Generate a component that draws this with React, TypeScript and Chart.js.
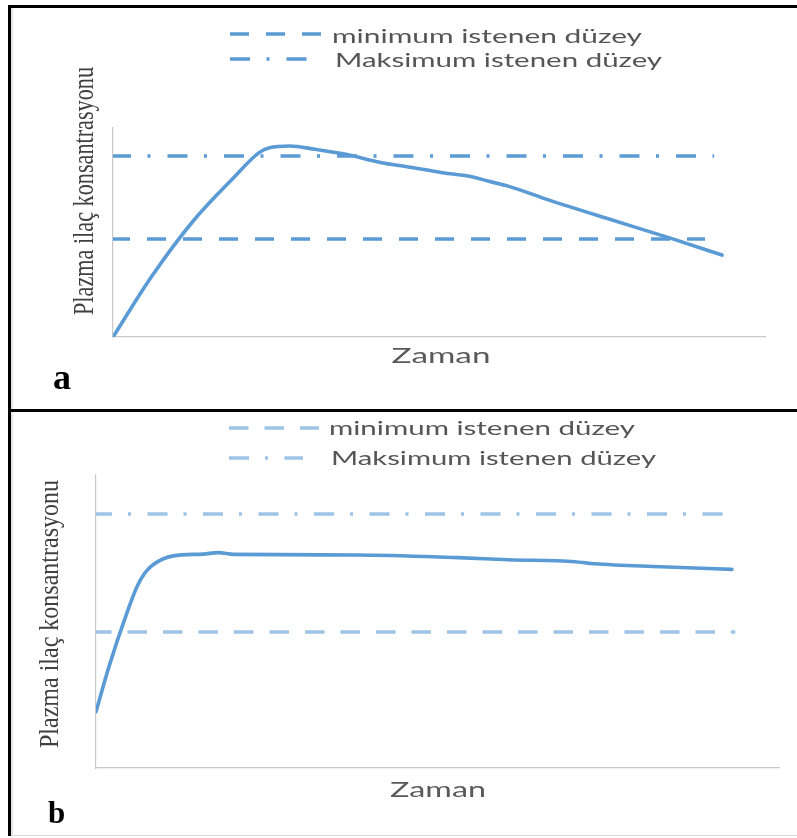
import React, { useEffect, useRef } from "react";
import { Chart, registerables } from "chart.js";

Chart.register(...registerables);

// ---------- data ----------
const legendLabels = ["minimum istenen düzey", "Maksimum istenen düzey"];
const xTitleText = "Zaman";
const yTitleText = "Plazma ilaç konsantrasyonu";

// panel a: single-dose curve
const timeA = [0, 6.0, 12.3, 18.5, 22.4, 24.0, 27.1, 31.0, 35.7, 41.2, 45.1, 50.5, 55.2, 57.5, 60.6, 66.9, 76.2, 85.6, 93.4];
const concA = [0, 29.3, 55.5, 76.2, 88.2, 90.6, 91.4, 89.8, 87.4, 83.4, 81.5, 78.6, 76.6, 74.6, 72.2, 65.5, 56.3, 47.2, 39.2];
const minLevelA = 46.9;
const minEndA = 90.8;
const maxLevelA = 86.6;
const maxEndA = 92.2;

// panel b: sustained curve
const timeB = [0, 1.9, 4.5, 6.0, 7.1, 8.3, 11.3, 15.7, 17.9, 20.2, 38.1, 52.9, 60.4, 70.1, 73.0, 82.7, 93.1];
const concB = [19.2, 34.6, 52.8, 61.9, 66.4, 69.3, 72.4, 73.0, 73.5, 72.9, 72.7, 71.8, 71.1, 70.4, 69.7, 68.7, 67.8];
const minLevelB = 46.4;
const minEndB = 93.6;
const maxLevelB = 86.7;
const maxEndB = 91.8;

// ---------- helpers ----------
function fitText(ctx: CanvasRenderingContext2D, text: string, x: number, y: number, width: number, font: string, color: string, center = false) {
  ctx.save();
  ctx.font = font;
  ctx.fillStyle = color;
  ctx.textAlign = "left";
  ctx.textBaseline = "alphabetic";
  const w = ctx.measureText(text).width;
  ctx.translate(x, y);
  ctx.scale(width / w, 1);
  ctx.fillText(text, center ? -w / 2 : 0, 0);
  ctx.restore();
}

const decorPlugin = {
  id: "panelDecor",
  afterDraw(chart: any, _args: any, opts: any) {
    const ctx: CanvasRenderingContext2D = chart.ctx;
    if (!opts || !opts.legend) return;
    // legend
    opts.legend.forEach((row: any) => {
      const ds = chart.data.datasets[row.datasetIndex];
      ctx.save();
      ctx.strokeStyle = ds.borderColor;
      ctx.lineWidth = ds.borderWidth;
      ctx.setLineDash(ds.borderDash || []);
      ctx.lineDashOffset = 0;
      ctx.beginPath();
      ctx.moveTo(opts.legendX, row.y);
      ctx.lineTo(opts.legendX + row.sample, row.y);
      ctx.stroke();
      ctx.restore();
      fitText(ctx, ds.label, row.textX, row.baseline, row.textWidth, "20px Lato", "#555555");
    });
    // x title
    const xt = opts.xTitle;
    fitText(ctx, xTitleText, xt.cx, xt.baseline, xt.width, xt.font, "#595959", true);
    // y title (rotated)
    const yt = opts.yTitle;
    ctx.save();
    ctx.font = yt.font;
    ctx.fillStyle = "#404040";
    ctx.textAlign = "left";
    ctx.textBaseline = "alphabetic";
    const w = ctx.measureText(yTitleText).width;
    ctx.translate(yt.baseX, yt.cy);
    ctx.rotate(-Math.PI / 2);
    ctx.scale(yt.length / w, 1);
    ctx.fillText(yTitleText, -w / 2, 0);
    ctx.restore();
    // panel letter
    const lt = opts.letter;
    ctx.save();
    ctx.font = lt.font;
    ctx.fillStyle = "#000";
    ctx.textAlign = "left";
    ctx.textBaseline = "alphabetic";
    ctx.fillText(lt.text, lt.x, lt.baseline);
    ctx.restore();
  },
};

function buildConfig(p: any) {
  const curve = p.time.map((t: number, i: number) => ({ x: t, y: p.conc[i] }));
  return {
    type: "line",
    data: {
      datasets: [
        {
          label: "curve",
          data: curve,
          borderColor: "#5b9bd5",
          borderWidth: 3.6,
          pointRadius: 0,
          cubicInterpolationMode: "monotone",
          borderCapStyle: "round",
          borderJoinStyle: "round",
          fill: false,
        },
        {
          label: legendLabels[0],
          data: [{ x: 0, y: p.minLevel }, { x: p.minEnd, y: p.minLevel }],
          borderColor: p.refColor,
          borderWidth: 3.4,
          borderDash: p.minDash,
          borderDashOffset: p.dashOffset,
          pointRadius: 0,
          fill: false,
        },
        {
          label: legendLabels[1],
          data: [{ x: 0, y: p.maxLevel }, { x: p.maxEnd, y: p.maxLevel }],
          borderColor: p.refColor,
          borderWidth: 3.4,
          borderDash: p.maxDash,
          borderDashOffset: p.dashOffset,
          pointRadius: 0,
          fill: false,
        },
      ],
    },
    options: {
      animation: false,
      responsive: false,
      events: [],
      layout: { padding: p.padding },
      plugins: {
        legend: { display: false },
        tooltip: { enabled: false },
        title: { display: false },
        panelDecor: p.decor,
      },
      scales: {
        x: {
          type: "linear",
          min: 0,
          max: 100,
          grid: { display: false, drawTicks: false, tickLength: 0 },
          ticks: { display: false },
          border: { display: true, color: "#c8c8c8", width: 1.2 },
        },
        y: {
          type: "linear",
          min: 0,
          max: 100,
          grid: { display: false, drawTicks: false, tickLength: 0 },
          ticks: { display: false },
          border: { display: true, color: "#c8c8c8", width: 1.2 },
        },
      },
    },
    plugins: [decorPlugin],
  };
}

const panelA = {
  top: 0,
  height: 410,
  time: timeA,
  conc: concA,
  minLevel: minLevelA,
  minEnd: minEndA,
  maxLevel: maxLevelA,
  maxEnd: maxEndA,
  refColor: "#5b9bd5",
  minDash: [19, 17],
  maxDash: [20, 16.5, 3, 17],
  dashOffset: 2,
  padding: { left: 113, top: 128, right: 32, bottom: 73 },
  decor: {
    legendX: 230,
    legend: [
      { datasetIndex: 1, y: 34, sample: 92, textX: 332, baseline: 43, textWidth: 310 },
      { datasetIndex: 2, y: 59, sample: 77, textX: 335, baseline: 67, textWidth: 327 },
    ],
    xTitle: { cx: 441, baseline: 363, width: 99, font: "21px Lato" },
    yTitle: { baseX: 93, cy: 191, length: 248, font: "29px 'Liberation Serif'" },
    letter: { text: "a", x: 53, baseline: 389, font: "bold 36px 'Liberation Serif'" },
  },
};

const panelB = {
  top: 412,
  height: 423,
  time: timeB,
  conc: concB,
  minLevel: minLevelB,
  minEnd: minEndB,
  maxLevel: maxLevelB,
  maxEnd: maxEndB,
  refColor: "#9dc3e6",
  minDash: [19.5, 16],
  maxDash: [20, 16, 3, 16.5],
  dashOffset: 4,
  padding: { left: 96, top: 63, right: 18, bottom: 67 },
  decor: {
    legendX: 229,
    legend: [
      { datasetIndex: 1, y: 16, sample: 90, textX: 329, baseline: 23, textWidth: 306 },
      { datasetIndex: 2, y: 46, sample: 74, textX: 331, baseline: 53, textWidth: 325 },
    ],
    xTitle: { cx: 438, baseline: 385, width: 96, font: "21px Lato" },
    yTitle: { baseX: 57.5, cy: 202, length: 268, font: "27px 'Liberation Serif'" },
    letter: { text: "b", x: 48, baseline: 411, font: "bold 31px 'Liberation Serif'" },
  },
};

function Panel({ p }: { p: any }) {
  const ref = useRef<HTMLCanvasElement | null>(null);
  useEffect(() => {
    if (!ref.current) return;
    const chart = new Chart(ref.current, buildConfig(p) as any);
    return () => chart.destroy();
  }, [p]);
  return (
    <canvas
      ref={ref}
      width={797}
      height={p.height}
      style={{ position: "absolute", left: 0, top: p.top, width: 797, height: p.height }}
    />
  );
}

export default function App() {
  const line = (s: React.CSSProperties) => <div style={{ position: "absolute", ...s }} />;
  return (
    <div style={{ position: "absolute", left: 0, top: 0, width: 797, height: 838, background: "#fff", overflow: "hidden" }}>
      <Panel p={panelA} />
      <Panel p={panelB} />
      {line({ left: 8, top: 5, width: 789, height: 3, background: "#000" })}
      {line({ left: 8, top: 5, width: 3, height: 831, background: "#000" })}
      {line({ left: 8, top: 409, width: 789, height: 3, background: "#000" })}
      {line({ left: 11, top: 8, width: 2, height: 401, background: "#e4e4e4" })}
      {line({ left: 11, top: 412, width: 2, height: 423, background: "#e4e4e4" })}
      {line({ left: 11, top: 835, width: 786, height: 1, background: "#d8d8d8" })}
    </div>
  );
}
